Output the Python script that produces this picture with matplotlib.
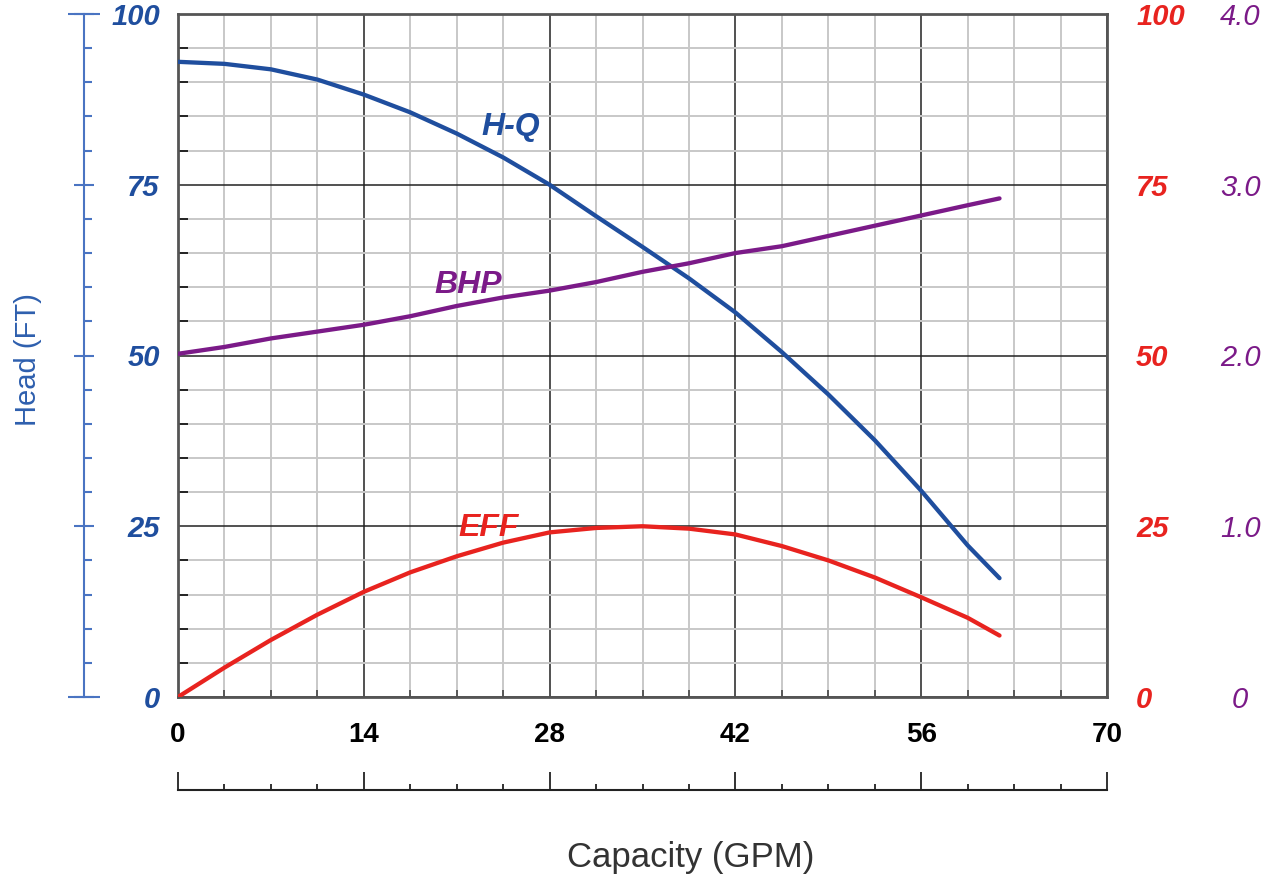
import matplotlib
matplotlib.use('Agg')
import matplotlib.pyplot as plt
from matplotlib.ticker import MultipleLocator, FixedLocator, FuncFormatter

plt.rcParams['font.family'] = ['Liberation Sans', 'DejaVu Sans']

gpm = [0, 3.5, 7, 10.5, 14, 17.5, 21, 24.5, 28, 31.5, 35, 38.5, 42, 45.5,
       49, 52.5, 56, 59.5, 61.9]
# head (ft)
head = [93.0, 92.7, 91.9, 90.4, 88.2, 85.6, 82.5, 79.0, 75.0, 70.4, 65.9,
        61.3, 56.3, 50.5, 44.3, 37.6, 30.2, 22.2, 17.4]
# efficiency (%)
eff = [0, 4.3, 8.35, 12.05, 15.4, 18.25, 20.6, 22.6, 24.1, 24.75, 25.0,
       24.65, 23.8, 22.1, 20.0, 17.5, 14.6, 11.6, 9.0]
# brake horsepower
bhp = [2.01, 2.05, 2.10, 2.14, 2.18, 2.23, 2.29, 2.34, 2.38, 2.43, 2.49,
       2.54, 2.60, 2.64, 2.70, 2.76, 2.82, 2.88, 2.92]

gpm_ticks = [0, 14, 28, 42, 56, 70]
head_ticks = [0, 25, 50, 75, 100]
eff_ticks = [0, 25, 50, 75, 100]
bhp_ticks = [0, 1, 2, 3, 4]

# colours
BLUE = '#1f4e9e'
BLUE_AX = '#4a74c2'
RED = '#e8231f'
PURPLE = '#7b1a88'
TICK_FS = 21

fig = plt.figure(figsize=(12.76, 8.82), dpi=100)
pos = [178/1276, 1 - 697/882, (1107 - 178)/1276, (697 - 14)/882]

# main axes: head scale + grid
ax = fig.add_axes(pos)
ax.set_xlim(0, 70)
ax.set_ylim(0, 100)
ax.xaxis.set_major_locator(FixedLocator(gpm_ticks))
ax.xaxis.set_minor_locator(MultipleLocator(3.5))
ax.yaxis.set_major_locator(FixedLocator(head_ticks))
ax.yaxis.set_minor_locator(MultipleLocator(5))
ax.grid(which='minor', color='#c8c8c8', lw=1.4)
ax.grid(which='major', color='#222222', lw=1.1)
ax.set_axisbelow(True)
ax.tick_params(which='both', direction='in', top=False, right=False)
ax.tick_params(axis='x', which='major', length=0, pad=18, labelsize=TICK_FS - 1)
ax.tick_params(axis='x', which='minor', length=5, color='#444444', width=1.2)
ax.tick_params(axis='y', which='major', length=0, pad=13, labelsize=TICK_FS,
               labelcolor=BLUE)
ax.tick_params(axis='y', which='minor', length=7, color='#222222', width=1.4)
for lbl in ax.get_xticklabels():
    lbl.set_fontweight('bold')
for lbl in ax.get_yticklabels():
    lbl.set_fontweight('bold')
    lbl.set_fontstyle('italic')
for s in ax.spines.values():
    s.set_color('#555555')
    s.set_linewidth(2)

ax.plot(gpm, head, color=BLUE, lw=3.1, solid_capstyle='round',
        solid_joinstyle='round', zorder=5)
ax.text(25.1, 83.4, 'H-Q', color=BLUE, fontsize=23, fontweight='bold',
        fontstyle='italic', ha='center', va='center')
ax.text(21.9, 60.3, 'BHP', color=PURPLE, fontsize=23, fontweight='bold',
        fontstyle='italic', ha='center', va='center')
ax.text(23.4, 24.8, 'EFF', color=RED, fontsize=23, fontweight='bold',
        fontstyle='italic', ha='center', va='center')

# efficiency axis (red labels)
axe = ax.twinx()
axe.set_ylim(0, 100)
axe.yaxis.set_major_locator(FixedLocator(eff_ticks))
axe.tick_params(axis='y', length=0, pad=21, labelsize=TICK_FS, labelcolor=RED)
for lbl in axe.get_yticklabels():
    lbl.set_fontweight('bold')
    lbl.set_fontstyle('italic')
for s in axe.spines.values():
    s.set_visible(False)
axe.plot(gpm, eff, color=RED, lw=3.1, solid_capstyle='round',
         solid_joinstyle='round', zorder=5)

# bhp axis (purple labels)
axb = ax.twinx()
axb.set_ylim(0, 4)
axb.yaxis.set_major_locator(FixedLocator(bhp_ticks))
axb.yaxis.set_major_formatter(FuncFormatter(lambda v, p: '0' if v == 0 else '%.1f' % v))
axb.tick_params(axis='y', length=0, pad=96, labelsize=TICK_FS, labelcolor=PURPLE)
for lbl in axb.get_yticklabels():
    lbl.set_fontstyle('italic')
    lbl.set_horizontalalignment('center')
for s in axb.spines.values():
    s.set_visible(False)
axb.plot(gpm, bhp, color=PURPLE, lw=3.1, solid_capstyle='round',
         solid_joinstyle='round', zorder=5)

# detached blue head scale on the far left
axl = ax.twinx()
axl.set_ylim(0, 100)
axl.yaxis.tick_left()
axl.yaxis.set_major_locator(FixedLocator(head_ticks))
axl.yaxis.set_minor_locator(MultipleLocator(5))
axl.tick_params(axis='y', which='major', direction='inout', length=14.5,
                width=1.5, color=BLUE_AX, labelleft=False, labelright=False)
axl.tick_params(axis='y', which='minor', direction='in', length=6,
                width=1.5, color=BLUE_AX)
for k, s in axl.spines.items():
    s.set_visible(k == 'left')
axl.spines['left'].set_position(('outward', 67.7))
axl.spines['left'].set_color(BLUE_AX)
axl.spines['left'].set_linewidth(1.5)

# longer end caps on the blue scale
axc = ax.twinx()
axc.set_ylim(0, 100)
axc.yaxis.tick_left()
axc.yaxis.set_major_locator(FixedLocator([head_ticks[0], head_ticks[-1]]))
axc.tick_params(axis='y', direction='inout', length=23, width=1.5,
                color=BLUE_AX, labelleft=False, labelright=False)
for s in axc.spines.values():
    s.set_visible(False)
axc.spines['left'].set_position(('outward', 67.7))

# detached capacity scale below
axx = ax.twiny()
axx.set_xlim(0, 70)
axx.xaxis.tick_bottom()
axx.xaxis.set_major_locator(FixedLocator(gpm_ticks))
axx.xaxis.set_minor_locator(MultipleLocator(3.5))
axx.tick_params(axis='x', which='major', direction='in', length=13,
                width=1.3, color='#222222', labelbottom=False, labeltop=False)
axx.tick_params(axis='x', which='minor', direction='in', length=4.5,
                width=1.3, color='#222222')
for k, s in axx.spines.items():
    s.set_visible(k == 'bottom')
axx.spines['bottom'].set_position(('outward', 67))
axx.spines['bottom'].set_color('#222222')
axx.spines['bottom'].set_linewidth(1.5)

fig.text(691/1276, 1 - 857/882, 'Capacity (GPM)', fontsize=25,
         color='#333333', ha='center', va='center')
fig.text(28/1276, 1 - 360/882, 'Head (FT)', fontsize=21, color='#2e5fae',
         rotation=90, ha='center', va='center')

fig.savefig('out.png', dpi=100)
